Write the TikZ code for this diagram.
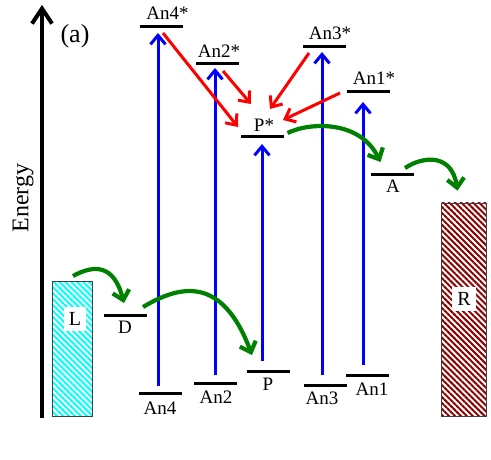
\documentclass[tikz,border=0pt]{standalone}
\usepackage{fontspec}
\setmainfont{Liberation Serif}
\usetikzlibrary{arrows.meta,calc,patterns.meta}
\definecolor{dgreen}{RGB}{0,128,0}
\definecolor{dred}{RGB}{140,0,0}
\begin{document}
\begin{tikzpicture}[x=1pt,y=-1pt,
 lev/.style={fill=black,draw=none,minimum width=43pt,minimum height=3pt,inner sep=0pt},
 lab/.style={font=\fontsize{19}{19}\selectfont,inner sep=0pt},
 boxlab/.style={font=\fontsize{20}{20}\selectfont,fill=white,inner sep=5pt},
 exc/.style={blue,line width=3pt,-{Straight Barb[length=9pt,width=15pt]}},
 trans/.style={red,line width=3pt,-{Straight Barb[length=9pt,width=15pt]}},
 et/.style={dgreen,line width=4.2pt,-{Straight Barb[length=9pt,width=17pt]}},
 band/.style={draw=black!75,line width=0.8pt,inner sep=0pt},
]
\useasboundingbox (0,0) rectangle (491,460);
% axis
\coordinate (ax0) at (42,418);
\coordinate (ax1) at (42,5);
\draw[line width=4pt,-{Straight Barb[length=15pt,width=20pt]}] (ax0) -- (ax1);
\node[rotate=90,font=\fontsize{24}{24}\selectfont,inner sep=0pt] (En) at (23,198) {Energy};
\node[font=\fontsize{26}{26}\selectfont,inner sep=0pt] (tag) at (75,36) {(a)};
% bands
\node[band,pattern={Lines[angle=-45,distance=4.2pt,line width=2pt]},pattern color=cyan,minimum width=40pt,minimum height=135pt] (Lbox) at (72,348.5) {};
\node[boxlab] (Llab) at (75,319) {L};
\node[band,pattern={Lines[angle=-45,distance=4.2pt,line width=2pt]},pattern color=dred,minimum width=45pt,minimum height=213pt] (Rbox) at (463.5,309.5) {};
\node[boxlab] (Rlab) at (464,299) {R};
% levels
\node[lev] (An4s) at (161.5,27) {};
\node[lev] (An2s) at (217.5,64) {};
\node[lev] (An3s) at (324,47) {};
\node[lev] (An1s) at (368.5,92) {};
\node[lev] (Ps) at (262.5,137) {};
\node[lev] (A) at (392.5,175) {};
\node[lev] (D) at (125,315) {};
\node[lev] (An4) at (160,393) {};
\node[lev] (An2) at (215,383) {};
\node[lev] (P) at (268.5,371) {};
\node[lev] (An3) at (325.5,385) {};
\node[lev] (An1) at (367.5,375) {};
% labels
\node[lab] (An4sL) at (167.5,13.5) {An4*};
\node[lab] (An2sL) at (219,51.5) {An2*};
\node[lab] (An3sL) at (330,33.5) {An3*};
\node[lab] (An1sL) at (374,78.5) {An1*};
\node[lab] (PsL) at (264,125) {P*};
\node[lab] (AL) at (393,186) {A};
\node[lab] (DL) at (125,327) {D};
\node[lab] (An4L) at (160,408.5) {An4};
\node[lab] (An2L) at (216,397.5) {An2};
\node[lab] (PL) at (268,384.5) {P};
\node[lab] (An3L) at (322,398.5) {An3};
\node[lab] (An1L) at (372,389.5) {An1};
% excitation
\draw[exc] ($(An4)+(-2,-7)$) -- ($(An4s)+(-3.5,6)$);
\draw[exc] ($(An2)+(0,-8)$) -- ($(An2s)+(-2.5,4)$);
\draw[exc] ($(P)+(-6.5,-10)$) -- ($(Ps)+(-0.5,7)$);
\draw[exc] ($(An3)+(-3.5,-10)$) -- ($(An3s)+(-2,5)$);
\draw[exc] ($(An1)+(-4.5,-10)$) -- ($(An1s)+(-5.5,10)$);
% energy transfer
\draw[trans] ($(An4s)+(1.5,6)$) -- ($(Ps)+(-24.5,-10)$);
\draw[trans] ($(An2s)+(5.5,7)$) -- ($(Ps)+(-11.5,-33)$);
\draw[trans] ($(An3s)+(-15,6)$) -- ($(Ps)+(7.5,-28)$);
\draw[trans] ($(An1s)+(-28.5,1)$) -- ($(Ps)+(20.5,-17)$);
% electron transfer
\draw[et] ($(Lbox.north)+(1,-4)$) .. controls +(22,-12) and +(-10,-38) .. ($(D)+(-1,-12)$);
\draw[et] ($(D)+(18,-8)$) .. controls +(37,-22) and +(-30,-80) .. ($(P)+(-16.5,-16)$);
\draw[et] ($(Ps)+(25,-4)$) .. controls +(22.5,-11) and +(-20.5,-42) .. ($(A)+(-12,-13)$);
\draw[et] ($(A)+(12.5,-7)$) .. controls +(20,-13) and +(-5.5,-36) .. ($(Rbox.north)+(-6,-12)$);
\end{tikzpicture}
\end{document}
